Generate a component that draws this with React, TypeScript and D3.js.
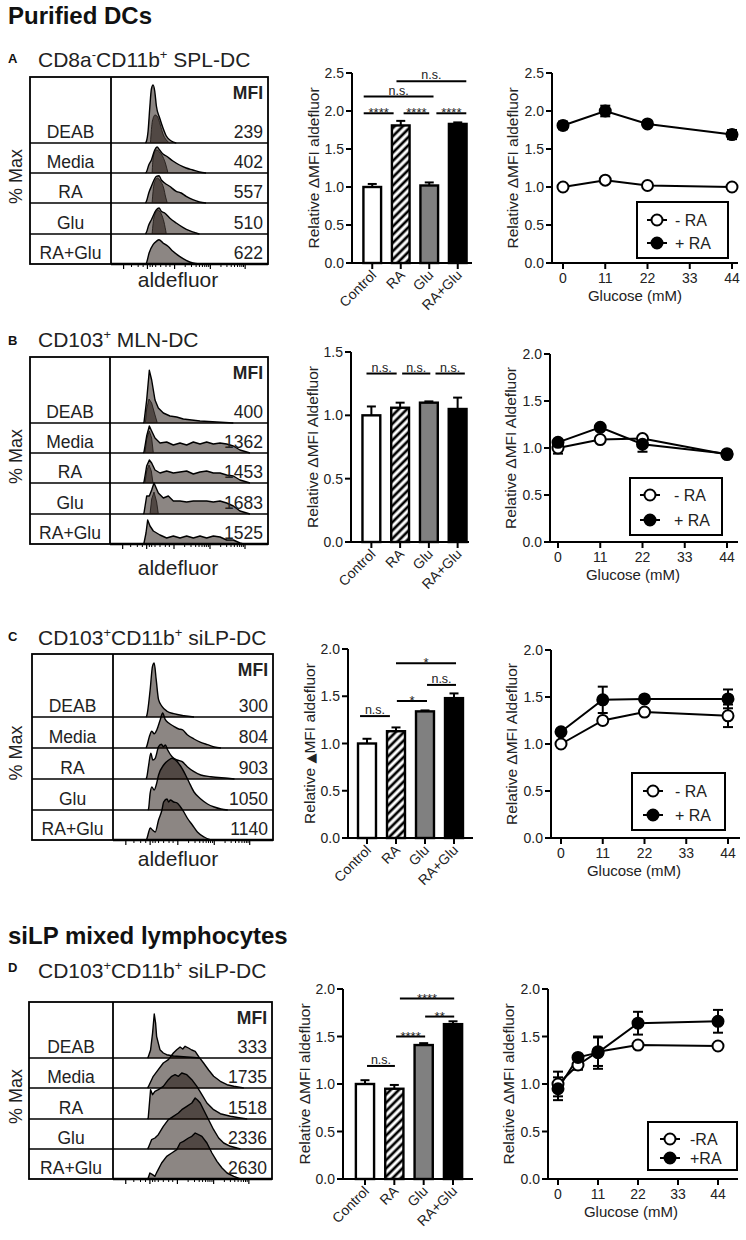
import React from "react";
import * as d3 from "d3";

type Pt = [number, number];

const FONT = "'Liberation Sans', Arial, Helvetica, sans-serif";
const FILL = "rgb(20,8,2)";
const FILL_OP = 0.49;

// ---------------- histogram data (channel, count) ----------------
const histRowLabels = ["DEAB", "Media", "RA", "Glu", "RA+Glu"];
const mfiA = [239, 402, 557, 510, 622];
const mfiB = [400, 1362, 1453, 1683, 1525];
const mfiC = [300, 804, 903, 1050, 1140];
const mfiD = [333, 1735, 1518, 2336, 2630];

const histA: Pt[][] = [
  [[104,0],[107,1.7],[112,12],[117,35],[122,54],[127,58],[132,52],[137,37],[147,25],[157,15],[167,7],[182,2],[197,0]],
  [[104,0],[107,1],[114,8],[122,13],[132,23],[139,26],[147,23],[157,19],[167,17],[187,12],[207,8],[227,5],[247,3],[267,1],[287,0]],
  [[104,0],[107,1.7],[114,10],[122,16.7],[137,26.7],[145,27.3],[152,23],[162,20],[177,16.7],[197,11.7],[212,10],[227,6.7],[247,3.3],[267,1],[287,0]],
  [[104,0],[107,1.7],[114,9],[122,14.3],[137,24.3],[145,26],[152,22.7],[162,21],[177,16],[197,11],[217,6.7],[237,3.3],[257,1],[267,0]],
  [[104,0],[107,1],[115,11],[127,19.3],[137,22.7],[145,24.3],[157,21],[172,17.7],[187,12.7],[207,7.7],[227,3.7],[247,1],[267,0]],
];
const histDarkA: Pt[][] = [
  [[119,0],[125,22],[133,28],[141,26],[149,18],[157,9],[167,3],[177,0]],
  [[124,0],[128,17],[137,23],[147,21],[157,16],[165,9],[172,0]],
  [[124,0],[130,19],[140,25],[149,22],[159,15],[165,6],[170,0]],
  [[124,0],[130,17],[142,24],[152,20],[160,12],[167,0]],
  [],
];

const histB: Pt[][] = [
  [[100,0],[102,0.7],[110,23],[118,52.7],[125,43],[135,23],[145,15],[160,10],[180,7],[200,6],[220,4],[270,2],[320,1],[370,0]],
  [[100,0],[102,1],[110,17],[118,27],[125,22],[135,15],[150,10],[170,11],[190,8],[210,10],[230,8],[250,11],[270,9],[290,11],[310,9],[330,10],[350,9],[370,7],[390,3],[410,1],[420,0]],
  [[100,0],[102,1],[110,17],[118,23],[125,20],[135,13],[150,10],[170,12],[190,10],[210,11],[230,12],[250,9],[270,11],[290,12],[310,10],[330,10],[350,8],[370,7],[390,3],[410,1],[420,0]],
  [[100,0],[102,1],[110,18],[118,18],[125,24],[132,31],[145,21],[160,16],[175,18],[190,13],[210,13],[230,12],[250,13],[270,13],[290,13],[310,12],[330,13],[350,11],[370,8],[390,3],[410,1],[420,0]],
  [[100,0],[102,1],[108,11],[113,24],[120,18],[130,13],[150,9],[170,6],[190,8],[210,6],[230,8],[250,6],[270,8],[290,6],[310,8],[330,7],[350,4],[370,4],[390,1],[400,0]],
];
const histDarkB: Pt[][] = [
  [[106,0],[110,14],[117,24],[125,20],[135,8],[142,0]],
  [[105,0],[110,14],[118,22],[125,15],[130,0]],
  [[105,0],[110,12],[117,18],[124,12],[129,0]],
  [[120,0],[125,15],[132,22],[140,12],[145,0]],
  [],
];

const histC: Pt[][] = [
  [[98,0],[100,1.3],[110,27],[117,50.7],[122,54],[128,37.3],[135,17.3],[145,10.7],[160,5.7],[180,3.3],[210,1.3],[240,0]],
  [[98,0],[100,1.7],[108,11.7],[115,16.7],[122,14.3],[130,18.3],[140,28.3],[147,35],[155,28.3],[165,25],[180,21.7],[195,19],[205,18.3],[220,13.3],[240,9],[260,5.7],[280,3.3],[300,1],[320,0]],
  [[98,0],[100,1.7],[105,12.3],[112,25.7],[118,19],[125,20.7],[135,32.3],[143,34.7],[150,32.3],[155,34],[162,29],[175,22.3],[190,19],[205,17.3],[220,12.3],[240,7.3],[260,4],[290,2.3],[340,0.7],[360,0]],
  [[103,0],[105,0.7],[110,16.7],[115,23],[122,20],[128,25],[135,35],[150,45],[165,50],[175,51.7],[185,50],[200,44],[215,35],[225,28],[240,18],[260,11],[280,6],[300,3],[320,1],[340,0]],
  [[98,0],[100,1],[105,7],[110,12],[117,10],[125,8],[135,20],[145,30],[150,38],[160,41],[165,38],[170,40],[180,38],[190,37],[200,33],[210,28],[220,22],[235,15],[250,8],[270,3],[290,0]],
];

const histD: Pt[][] = [
  [[103,0],[105,1],[112,8],[118,25],[123,44],[127,35],[130,21.7],[140,8.3],[150,5],[160,3.3],[180,2],[220,1],[260,0]],
  [[103,0],[105,1],[120,11.7],[135,18.3],[150,25],[165,28.3],[180,35],[190,38.3],[200,41],[208,39],[215,41.7],[225,40],[235,38],[245,36.7],[255,31.7],[270,25],[285,18],[300,11.7],[320,6.7],[340,3.3],[360,1.7],[390,0]],
  [[103,0],[105,1],[112,29.3],[118,24.3],[125,27.7],[135,29.3],[150,32.7],[165,39.3],[175,42.7],[185,44.3],[195,42.7],[205,46],[220,44.3],[235,39.3],[250,32.7],[265,24.3],[280,16],[300,9.3],[320,5.3],[350,2.7],[380,1],[400,0]],
  [[103,0],[105,1],[115,9.3],[125,11],[135,14.3],[150,22.7],[165,29.3],[180,32.7],[195,36],[205,39.3],[220,42.7],[235,46],[245,51],[252,49],[260,46],[270,39.3],[285,29.3],[300,19.3],[315,11],[330,6],[350,2.7],[380,0]],
  [[103,0],[105,1],[110,6],[118,4.3],[125,2.7],[132,7.7],[145,16],[160,22.7],[175,26],[190,29.3],[200,36],[210,37.7],[225,41],[235,42.7],[245,46],[255,44.3],[265,42.7],[280,36],[295,26],[310,17.7],[325,11],[340,6],[360,2.7],[380,0]],
];
const noDark: Pt[][] = [[], [], [], [], []];

const histTickMajor = [38, 110, 192, 300, 405];
const histTickMinor = [62, 82, 97, 118, 125, 135, 150, 166, 178, 224, 243, 257, 267, 276, 283, 289, 295, 332, 350, 363, 373, 382, 389, 395, 400];

// ---------------- bar data ----------------
const barCategories = ["Control", "RA", "Glu", "RA+Glu"];
const barMeanA = [1.0, 1.81, 1.02, 1.83];
const barErrA = [0.04, 0.06, 0.04, 0.02];
const barMeanB = [1.0, 1.06, 1.1, 1.05];
const barErrB = [0.07, 0.04, 0.01, 0.09];
const barMeanC = [1.0, 1.13, 1.34, 1.48];
const barErrC = [0.05, 0.04, 0.01, 0.05];
const barMeanD = [1.0, 0.95, 1.41, 1.63];
const barErrD = [0.04, 0.04, 0.02, 0.03];

type Sig = { x1: number; x2: number; y: number; label: string };
const sigA: Sig[] = [
  { x1: -0.3, x2: 0.75, y: 1.97, label: "****" },
  { x1: 1.1, x2: 2.0, y: 1.97, label: "****" },
  { x1: 2.25, x2: 3.3, y: 1.97, label: "****" },
  { x1: -0.3, x2: 2.15, y: 2.19, label: "n.s." },
  { x1: 0.85, x2: 3.3, y: 2.39, label: "n.s." },
];
const sigB: Sig[] = [
  { x1: -0.17, x2: 0.88, y: 1.33, label: "n.s." },
  { x1: 1.07, x2: 2.05, y: 1.33, label: "n.s." },
  { x1: 2.23, x2: 3.25, y: 1.33, label: "n.s." },
];
const sigC: Sig[] = [
  { x1: -0.24, x2: 0.79, y: 1.29, label: "n.s." },
  { x1: 1.03, x2: 2.07, y: 1.45, label: "*" },
  { x1: 2.07, x2: 3.07, y: 1.62, label: "n.s." },
  { x1: 1.0, x2: 3.07, y: 1.85, label: "*" },
];
const sigD: Sig[] = [
  { x1: 0.07, x2: 1.02, y: 1.19, label: "n.s." },
  { x1: 1.06, x2: 2.05, y: 1.5, label: "****" },
  { x1: 2.05, x2: 3.04, y: 1.71, label: "**" },
  { x1: 1.19, x2: 3.04, y: 1.9, label: "****" },
];

// ---------------- line data ----------------
const glucoseTicks = [0, 11, 22, 33, 44];
const glucoseABC = [0, 11, 22, 44];
const glucoseD = [0, 5.5, 11, 22, 44];
const minusA = [1.0, 1.09, 1.02, 1.0];
const minusErrA = [0.02, 0.02, 0.02, 0.01];
const plusA = [1.81, 2.0, 1.83, 1.69];
const plusErrA = [0.05, 0.07, 0.03, 0.06];
const minusB = [1.0, 1.09, 1.1, 0.93];
const minusErrB = [0.06, 0.02, 0.02, 0.02];
const plusB = [1.06, 1.22, 1.04, 0.94];
const plusErrB = [0.03, 0.02, 0.08, 0.02];
const minusC = [1.0, 1.25, 1.34, 1.3];
const minusErrC = [0.02, 0.03, 0.02, 0.12];
const plusC = [1.13, 1.47, 1.48, 1.48];
const plusErrC = [0.02, 0.14, 0.02, 0.1];
const minusD = [1.0, 1.2, 1.34, 1.41, 1.4];
const minusErrD = [0.13, 0.05, 0.15, 0.03, 0.03];
const plusD = [0.95, 1.28, 1.33, 1.64, 1.66];
const plusErrD = [0.12, 0.03, 0.17, 0.12, 0.12];

// ---------------- layouts ----------------
type HistLayout = { left: number; div: number; right: number; top: number; bottoms: number[]; jagged: boolean };
const histLayoutA: HistLayout = { left: 30, div: 111, right: 268, top: 77, bottoms: [143, 173, 203, 234, 264], jagged: false };
const histLayoutB: HistLayout = { left: 30, div: 110, right: 268, top: 357, bottoms: [423, 453, 483, 514, 544], jagged: true };
const histLayoutC: HistLayout = { left: 32, div: 113, right: 273, top: 654, bottoms: [717, 748, 779, 810, 840], jagged: false };
const histLayoutD: HistLayout = { left: 29, div: 113, right: 272, top: 1002, bottoms: [1058, 1088, 1119, 1149, 1179], jagged: true };

type BarLayout = { axisX: number; y0: number; yTop: number; yMax: number; xEnd: number; band: [number, number] };
const barLayoutA: BarLayout = { axisX: 352, y0: 263, yTop: 73, yMax: 2.5, xEnd: 472, band: [358, 472] };
const barLayoutB: BarLayout = { axisX: 351, y0: 542, yTop: 352, yMax: 1.5, xEnd: 469, band: [357, 472] };
const barLayoutC: BarLayout = { axisX: 348, y0: 838, yTop: 649, yMax: 2.0, xEnd: 473, band: [352.5, 468.5] };
const barLayoutD: BarLayout = { axisX: 343, y0: 1179, yTop: 989, yMax: 2.0, xEnd: 473, band: [350.3, 467.7] };

type LineLayout = {
  axisX: number; y0: number; yTop: number; yMax: number; xRange: [number, number]; xEnd: number;
  legend: { x: number; y: number; w: number; h: number; r1: number; r2: number; mx: number; tx: number };
};
const lineLayoutA: LineLayout = { axisX: 552, y0: 263, yTop: 73, yMax: 2.5, xRange: [563, 732], xEnd: 738, legend: { x: 637, y: 202, w: 91, h: 56, r1: 18, r2: 41, mx: 20, tx: 38 } };
const lineLayoutB: LineLayout = { axisX: 550, y0: 542, yTop: 354, yMax: 2.0, xRange: [558, 727], xEnd: 738, legend: { x: 630, y: 478, w: 92, h: 57, r1: 17, r2: 42, mx: 20, tx: 44 } };
const lineLayoutC: LineLayout = { axisX: 551, y0: 838, yTop: 650, yMax: 2.0, xRange: [561, 728], xEnd: 740, legend: { x: 632, y: 773, w: 93, h: 57, r1: 18, r2: 42, mx: 21, tx: 43 } };
const lineLayoutD: LineLayout = { axisX: 548, y0: 1179, yTop: 989, yMax: 2.0, xRange: [558, 718], xEnd: 738, legend: { x: 648, y: 1122, w: 89, h: 48, r1: 17, r2: 36, mx: 22, tx: 42 } };

// ---------------- components ----------------
function HistPanel({ L, curves, darks, mfi }: { L: HistLayout; curves: Pt[][]; darks: Pt[][]; mfi: number[] }) {
  const x = d3.scaleLinear().domain([0, 474]).range([L.div, L.right]);
  const hy = d3.scaleLinear().domain([0, 60]).range([0, 60]);
  const curve = L.jagged ? d3.curveLinear : d3.curveMonotoneX;
  const areaGen = (yb: number) =>
    d3.area<Pt>().x((d) => x(d[0])).y0(yb).y1((d) => yb - hy(d[1])).curve(curve);
  const lineGen = (yb: number) =>
    d3.line<Pt>().x((d) => x(d[0])).y((d) => yb - hy(d[1])).curve(curve);
  const bottom = L.bottoms[4];
  const labelX = (L.left + L.div) / 2;
  return (
    <g>
      {L.bottoms.slice(0, 4).map((b, i) => (
        <line key={"dv" + i} x1={L.left} x2={L.right} y1={b} y2={b} stroke="#000" strokeWidth={1.6} />
      ))}
      {curves.map((c, i) => (
        <path key={"f" + i} d={areaGen(L.bottoms[i])(c) || ""} fill={FILL} fillOpacity={FILL_OP} />
      ))}
      {darks.map((c, i) =>
        c.length ? <path key={"df" + i} d={areaGen(L.bottoms[i])(c) || ""} fill={FILL} fillOpacity={FILL_OP} /> : null
      )}
      {darks.map((c, i) =>
        c.length ? <path key={"ds" + i} d={lineGen(L.bottoms[i])(c) || ""} fill="none" stroke="#1a1412" strokeWidth={0.8} /> : null
      )}
      {curves.map((c, i) => (
        <path key={"s" + i} d={lineGen(L.bottoms[i])(c) || ""} fill="none" stroke="#000" strokeWidth={1.4} strokeLinejoin="round" />
      ))}
      <rect x={L.left} y={L.top} width={L.right - L.left} height={bottom - L.top} fill="none" stroke="#000" strokeWidth={1.8} />
      <line x1={L.div} x2={L.div} y1={L.top} y2={bottom} stroke="#000" strokeWidth={1.8} />
      <line x1={L.div} x2={L.right} y1={bottom} y2={bottom} stroke="#000" strokeWidth={2.4} />
      {histTickMajor.map((t, i) => (
        <line key={"tM" + i} x1={x(t)} x2={x(t)} y1={bottom} y2={bottom + 5} stroke="#000" strokeWidth={1.2} />
      ))}
      {histTickMinor.map((t, i) => (
        <line key={"tm" + i} x1={x(t)} x2={x(t)} y1={bottom} y2={bottom + 3} stroke="#000" strokeWidth={1} />
      ))}
      {histRowLabels.map((lab, i) => (
        <text key={"l" + i} x={labelX} y={L.bottoms[i] - 5} textAnchor="middle" fontSize={17.5} fill="#222">
          {lab}
        </text>
      ))}
      {mfi.map((v, i) => (
        <text key={"m" + i} x={L.right - 5} y={L.bottoms[i] - 5} textAnchor="end" fontSize={17.5} fill="#222">
          {v}
        </text>
      ))}
      <text x={L.right - 5} y={L.top + 22} textAnchor="end" fontSize={17.5} fontWeight="bold" fill="#222">
        MFI
      </text>
      <text transform={`translate(22,${(L.top + bottom) / 2 + 6}) rotate(-90)`} textAnchor="middle" fontSize={18} fill="#222">
        % Max
      </text>
    </g>
  );
}

function BarPanel({ L, means, errs, sigs, yLabel }: { L: BarLayout; means: number[]; errs: number[]; sigs: Sig[]; yLabel: React.ReactNode }) {
  const y = d3.scaleLinear().domain([0, L.yMax]).range([L.y0, L.yTop]);
  const xb = d3.scaleBand<string>().domain(barCategories).range(L.band).paddingInner(0.38).paddingOuter(0.19);
  const bw = xb.bandwidth();
  const cx = (c: string) => (xb(c) as number) + bw / 2;
  const sx = d3.scaleLinear().domain([0, 3]).range([cx(barCategories[0]), cx(barCategories[3])]);
  const ticks = d3.range(0, L.yMax + 1e-9, 0.5);
  const fmt = d3.format(".1f");
  const fills = ["#ffffff", "url(#hatch)", "#808080", "#000000"];
  return (
    <g>
      {barCategories.map((c, i) => (
        <g key={c}>
          <line x1={cx(c)} x2={cx(c)} y1={y(means[i])} y2={y(means[i] + errs[i])} stroke="#000" strokeWidth={2} />
          <line x1={cx(c) - 4.5} x2={cx(c) + 4.5} y1={y(means[i] + errs[i])} y2={y(means[i] + errs[i])} stroke="#000" strokeWidth={2} />
          <rect x={xb(c)} y={y(means[i])} width={bw} height={L.y0 - y(means[i])} fill={fills[i]} stroke="#000" strokeWidth={2.4} />
        </g>
      ))}
      <line x1={L.axisX} x2={L.axisX} y1={L.y0} y2={L.yTop} stroke="#000" strokeWidth={2} />
      <line x1={L.axisX} x2={L.xEnd} y1={L.y0} y2={L.y0} stroke="#000" strokeWidth={2} />
      {ticks.map((t) => (
        <g key={t}>
          <line x1={L.axisX - 6} x2={L.axisX} y1={y(t)} y2={y(t)} stroke="#000" strokeWidth={2} />
          <text x={L.axisX - 8} y={y(t)} dy="0.36em" textAnchor="end" fontSize={14} fill="#222">
            {fmt(t)}
          </text>
        </g>
      ))}
      {barCategories.map((c) => (
        <g key={"xt" + c}>
          <line x1={cx(c)} x2={cx(c)} y1={L.y0} y2={L.y0 + 6} stroke="#000" strokeWidth={2} />
          <text transform={`translate(${cx(c) + 5},${L.y0 + 13}) rotate(-45)`} textAnchor="end" fontSize={14} fill="#222">
            {c}
          </text>
        </g>
      ))}
      {sigs.map((s, i) => (
        <g key={"sig" + i}>
          <line x1={sx(s.x1)} x2={sx(s.x2)} y1={y(s.y)} y2={y(s.y)} stroke="#000" strokeWidth={2} />
          <text
            x={(sx(s.x1) + sx(s.x2)) / 2}
            y={y(s.y) + (s.label.startsWith("*") ? 4 : -2)}
            textAnchor="middle"
            fontSize={s.label.startsWith("*") ? 13 : 12.5}
            fill="#222"
          >
            {s.label}
          </text>
        </g>
      ))}
      <text transform={`translate(${L.axisX - 33},${(L.y0 + L.yTop) / 2}) rotate(-90)`} textAnchor="middle" fontSize={15.5} fill="#222">
        {yLabel}
      </text>
    </g>
  );
}

function LinePanel({
  L, xs, minus, minusErr, plus, plusErr, yLabel, legendLabels,
}: {
  L: LineLayout; xs: number[]; minus: number[]; minusErr: number[]; plus: number[]; plusErr: number[];
  yLabel: React.ReactNode; legendLabels: string[];
}) {
  const y = d3.scaleLinear().domain([0, L.yMax]).range([L.y0, L.yTop]);
  const x = d3.scaleLinear().domain([0, 44]).range(L.xRange);
  const ticks = d3.range(0, L.yMax + 1e-9, 0.5);
  const fmt = d3.format(".1f");
  const line = d3.line<number>().x((_, i) => x(xs[i])).y((d) => y(d));
  const series = [
    { v: minus, e: minusErr, fill: "#ffffff" },
    { v: plus, e: plusErr, fill: "#000000" },
  ];
  const lg = L.legend;
  return (
    <g>
      <line x1={L.axisX} x2={L.axisX} y1={L.y0} y2={L.yTop} stroke="#000" strokeWidth={2} />
      <line x1={L.axisX} x2={L.xEnd} y1={L.y0} y2={L.y0} stroke="#000" strokeWidth={2} />
      {ticks.map((t) => (
        <g key={t}>
          <line x1={L.axisX - 6} x2={L.axisX} y1={y(t)} y2={y(t)} stroke="#000" strokeWidth={2} />
          <text x={L.axisX - 8} y={y(t)} dy="0.36em" textAnchor="end" fontSize={14} fill="#222">
            {fmt(t)}
          </text>
        </g>
      ))}
      {glucoseTicks.map((t) => (
        <g key={"g" + t}>
          <line x1={x(t)} x2={x(t)} y1={L.y0} y2={L.y0 + 6} stroke="#000" strokeWidth={2} />
          <text x={x(t)} y={L.y0 + 20} textAnchor="middle" fontSize={14} fill="#222">
            {t}
          </text>
        </g>
      ))}
      <text x={L.axisX + 83} y={L.y0 + 38} textAnchor="middle" fontSize={15} fill="#222">
        Glucose (mM)
      </text>
      <text transform={`translate(${L.axisX - 34},${(L.y0 + L.yTop) / 2}) rotate(-90)`} textAnchor="middle" fontSize={15.5} fill="#222">
        {yLabel}
      </text>
      {series.map((s, k) => (
        <path key={"ln" + k} d={line(s.v) || ""} fill="none" stroke="#000" strokeWidth={2} />
      ))}
      {series.map((s, k) =>
        s.v.map((v, i) => (
          <g key={"e" + k + "-" + i}>
            <line x1={x(xs[i])} x2={x(xs[i])} y1={y(v - s.e[i])} y2={y(v + s.e[i])} stroke="#000" strokeWidth={2} />
            <line x1={x(xs[i]) - 5} x2={x(xs[i]) + 5} y1={y(v + s.e[i])} y2={y(v + s.e[i])} stroke="#000" strokeWidth={2} />
            <line x1={x(xs[i]) - 5} x2={x(xs[i]) + 5} y1={y(v - s.e[i])} y2={y(v - s.e[i])} stroke="#000" strokeWidth={2} />
          </g>
        ))
      )}
      {series.map((s, k) =>
        s.v.map((v, i) => (
          <circle key={"c" + k + "-" + i} cx={x(xs[i])} cy={y(v)} r={5.5} fill={s.fill} stroke="#000" strokeWidth={2} />
        ))
      )}
      <rect x={lg.x} y={lg.y} width={lg.w} height={lg.h} fill="#fff" stroke="#000" strokeWidth={2} />
      {[lg.r1, lg.r2].map((ry, k) => (
        <g key={"lg" + k}>
          <line x1={lg.x + lg.mx - 10} x2={lg.x + lg.mx + 10} y1={lg.y + ry} y2={lg.y + ry} stroke="#000" strokeWidth={2} />
          <circle cx={lg.x + lg.mx} cy={lg.y + ry} r={5.5} fill={series[k].fill} stroke="#000" strokeWidth={2} />
          <text x={lg.x + lg.tx} y={lg.y + ry + 6} fontSize={16} fill="#222">
            {legendLabels[k]}
          </text>
        </g>
      ))}
    </g>
  );
}

function Subtitle({ x, y, parts }: { x: number; y: number; parts: { t: string; sup?: boolean }[] }) {
  let prevSup = false;
  return (
    <text x={x} y={y} fontSize={21} fill="#222">
      {parts.map((p, i) => {
        const dy = p.sup && !prevSup ? -8 : !p.sup && prevSup ? 8 : 0;
        prevSup = !!p.sup;
        return (
          <tspan key={i} dy={dy} fontSize={p.sup ? 13 : 21}>
            {p.t}
          </tspan>
        );
      })}
    </text>
  );
}

export default function App() {
  const lbl = (word: string) => <>{"Relative ΔMFI " + word}</>;
  const lblBold = (
    <>
      <tspan>Relative </tspan>
      <tspan fontFamily="'DejaVu Sans', sans-serif" fontSize={13}>▲</tspan>
      <tspan>MFI aldefluor</tspan>
    </>
  );
  const legendSpaced = ["- RA", "+ RA"];
  const legendTight = ["-RA", "+RA"];
  return (
    <svg
      width={746}
      height={1240}
      viewBox="0 0 746 1240"
      style={{ position: "absolute", left: 0, top: 0, background: "#fff", fontFamily: FONT }}
      fontFamily={FONT}
    >
      <defs>
        <pattern id="hatch" patternUnits="userSpaceOnUse" width={5.8} height={5.8} patternTransform="rotate(45)">
          <rect width={5.8} height={5.8} fill="#fff" />
          <line x1={2.9} x2={2.9} y1={0} y2={5.8} stroke="#000" strokeWidth={2.7} />
        </pattern>
      </defs>
      <rect x={0} y={0} width={746} height={1240} fill="#fff" />

      <text x={8} y={24} fontSize={24} fontWeight="bold" fill="#111">Purified DCs</text>
      <text x={8} y={944} fontSize={24} fontWeight="bold" fill="#111">siLP mixed lymphocytes</text>

      <text x={8} y={63} fontSize={13} fontWeight="bold" fill="#111">A</text>
      <text x={8} y={345} fontSize={13} fontWeight="bold" fill="#111">B</text>
      <text x={8} y={641} fontSize={13} fontWeight="bold" fill="#111">C</text>
      <text x={8} y={972} fontSize={13} fontWeight="bold" fill="#111">D</text>

      <Subtitle x={38} y={67} parts={[{ t: "CD8a" }, { t: "-", sup: true }, { t: "CD11b" }, { t: "+", sup: true }, { t: " SPL-DC" }]} />
      <Subtitle x={38} y={347} parts={[{ t: "CD103" }, { t: "+", sup: true }, { t: " MLN-DC" }]} />
      <Subtitle x={38} y={645} parts={[{ t: "CD103" }, { t: "+", sup: true }, { t: "CD11b" }, { t: "+", sup: true }, { t: " siLP-DC" }]} />
      <Subtitle x={38} y={978} parts={[{ t: "CD103" }, { t: "+", sup: true }, { t: "CD11b" }, { t: "+", sup: true }, { t: " siLP-DC" }]} />

      <HistPanel L={histLayoutA} curves={histA} darks={histDarkA} mfi={mfiA} />
      <HistPanel L={histLayoutB} curves={histB} darks={histDarkB} mfi={mfiB} />
      <HistPanel L={histLayoutC} curves={histC} darks={noDark} mfi={mfiC} />
      <HistPanel L={histLayoutD} curves={histD} darks={noDark} mfi={mfiD} />

      <text x={178} y={287} textAnchor="middle" fontSize={21} fill="#222">aldefluor</text>
      <text x={178} y={575} textAnchor="middle" fontSize={21} fill="#222">aldefluor</text>
      <text x={178} y={866} textAnchor="middle" fontSize={21} fill="#222">aldefluor</text>

      <BarPanel L={barLayoutA} means={barMeanA} errs={barErrA} sigs={sigA} yLabel={lbl("aldefluor")} />
      <BarPanel L={barLayoutB} means={barMeanB} errs={barErrB} sigs={sigB} yLabel={lbl("Aldefluor")} />
      <BarPanel L={barLayoutC} means={barMeanC} errs={barErrC} sigs={sigC} yLabel={lblBold} />
      <BarPanel L={barLayoutD} means={barMeanD} errs={barErrD} sigs={sigD} yLabel={lbl("aldefluor")} />

      <LinePanel L={lineLayoutA} xs={glucoseABC} minus={minusA} minusErr={minusErrA} plus={plusA} plusErr={plusErrA} yLabel={lbl("aldefluor")} legendLabels={legendSpaced} />
      <LinePanel L={lineLayoutB} xs={glucoseABC} minus={minusB} minusErr={minusErrB} plus={plusB} plusErr={plusErrB} yLabel={lbl("Aldefluor")} legendLabels={legendSpaced} />
      <LinePanel L={lineLayoutC} xs={glucoseABC} minus={minusC} minusErr={minusErrC} plus={plusC} plusErr={plusErrC} yLabel={lbl("Aldefluor")} legendLabels={legendSpaced} />
      <LinePanel L={lineLayoutD} xs={glucoseD} minus={minusD} minusErr={minusErrD} plus={plusD} plusErr={plusErrD} yLabel={lbl("aldefluor")} legendLabels={legendTight} />
    </svg>
  );
}
